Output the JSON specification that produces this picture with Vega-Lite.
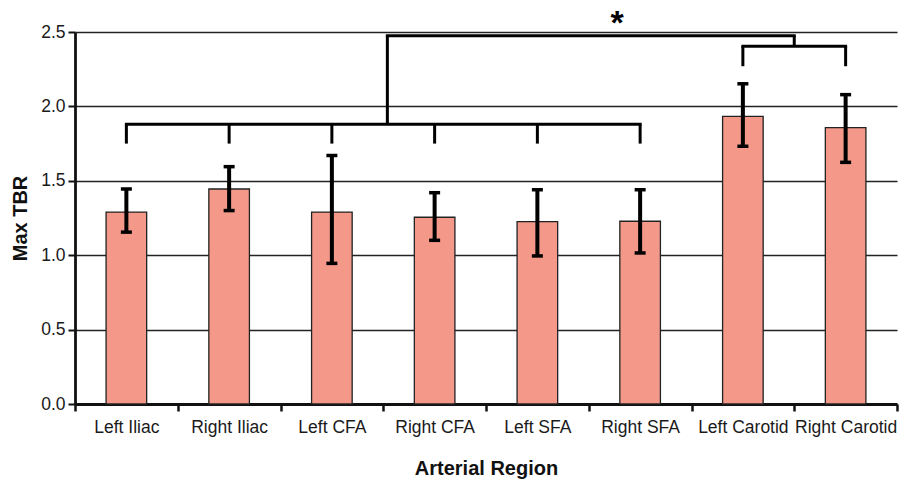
{
  "$schema": "https://vega.github.io/schema/vega-lite/v6.json",
  "width": 822,
  "height": 372,
  "autosize": {"type": "none"},
  "padding": {"left": 75, "top": 32, "right": 14, "bottom": 79},
  "background": "white",
  "config": {
    "view": {"stroke": null},
    "font": "Liberation Sans"
  },
  "datasets": {
    "bars": [
      {"region": "Left Iliac", "tbr": 1.29, "lo": 1.155, "hi": 1.445},
      {"region": "Right Iliac", "tbr": 1.445, "lo": 1.30, "hi": 1.595},
      {"region": "Left CFA", "tbr": 1.29, "lo": 0.945, "hi": 1.67},
      {"region": "Right CFA", "tbr": 1.255, "lo": 1.10, "hi": 1.42},
      {"region": "Left SFA", "tbr": 1.225, "lo": 0.995, "hi": 1.44},
      {"region": "Right SFA", "tbr": 1.228, "lo": 1.015, "hi": 1.44},
      {"region": "Left Carotid", "tbr": 1.933, "lo": 1.732, "hi": 2.152},
      {"region": "Right Carotid", "tbr": 1.857, "lo": 1.624, "hi": 2.079}
    ],
    "drops": [
      {"region": "Left Iliac", "y1": 1.75, "y2": 1.88},
      {"region": "Right Iliac", "y1": 1.75, "y2": 1.88},
      {"region": "Left CFA", "y1": 1.75, "y2": 1.88},
      {"region": "Right CFA", "y1": 1.75, "y2": 1.88},
      {"region": "Left SFA", "y1": 1.75, "y2": 1.88},
      {"region": "Right SFA", "y1": 1.75, "y2": 1.88},
      {"region": "Left Carotid", "y1": 2.27, "y2": 2.405},
      {"region": "Right Carotid", "y1": 2.27, "y2": 2.405}
    ],
    "spans": [
      {"from": "Left Iliac", "to": "Right SFA", "y": 1.88},
      {"from": "Left Carotid", "to": "Right Carotid", "y": 2.405}
    ]
  },
  "layer": [
    {
      "data": {"name": "bars"},
      "mark": {"type": "bar", "width": {"band": 0.395}, "fill": "#F4998A", "stroke": "#222", "strokeWidth": 1.3},
      "encoding": {
        "x": {
          "field": "region", "type": "nominal",
          "scale": {"domain": ["Left Iliac", "Right Iliac", "Left CFA", "Right CFA", "Left SFA", "Right SFA", "Left Carotid", "Right Carotid"], "paddingInner": 0, "paddingOuter": 0},
          "title": "Arterial Region",
          "axis": {
            "labelAngle": 0, "labelFontSize": 17.5, "labelColor": "#1a1a1a", "labelPadding": 7,
            "tickBand": "extent", "tickSize": 7, "tickWidth": 2.5, "tickColor": "#111",
            "domainColor": "#111", "domainWidth": 2.8,
            "titleFontSize": 20, "titleFontWeight": "bold", "titleColor": "#111", "titlePadding": 23
          }
        },
        "y": {
          "field": "tbr", "type": "quantitative",
          "scale": {"domain": [0, 2.5], "nice": false},
          "title": "Max TBR",
          "axis": {
            "values": [0, 0.5, 1, 1.5, 2, 2.5], "format": ".1f",
            "labelFontSize": 17.5, "labelColor": "#1a1a1a", "labelPadding": 3,
            "tickSize": 7, "tickWidth": 2, "tickColor": "#111",
            "domainColor": "#111", "domainWidth": 2.8,
            "grid": true, "gridColor": "#222", "gridWidth": 1.4,
            "titleFontSize": 20, "titleFontWeight": "bold", "titleColor": "#111", "titlePadding": 10
          }
        }
      }
    },
    {
      "data": {"name": "bars"},
      "mark": {"type": "rule", "color": "#000", "strokeWidth": 4},
      "encoding": {
        "x": {"field": "region", "type": "nominal", "title": "Arterial Region"},
        "y": {"field": "lo", "type": "quantitative", "title": "Max TBR"},
        "y2": {"field": "hi"}
      }
    },
    {
      "data": {"name": "bars"},
      "mark": {"type": "tick", "color": "#000", "size": 11, "thickness": 3.5, "opacity": 1},
      "encoding": {
        "x": {"field": "region", "type": "nominal", "title": "Arterial Region"},
        "y": {"field": "hi", "type": "quantitative", "title": "Max TBR"}
      }
    },
    {
      "data": {"name": "bars"},
      "mark": {"type": "tick", "color": "#000", "size": 11, "thickness": 3.5, "opacity": 1},
      "encoding": {
        "x": {"field": "region", "type": "nominal", "title": "Arterial Region"},
        "y": {"field": "lo", "type": "quantitative", "title": "Max TBR"}
      }
    },
    {
      "data": {"name": "drops"},
      "mark": {"type": "rule", "color": "#000", "strokeWidth": 3},
      "encoding": {
        "x": {"field": "region", "type": "nominal", "title": "Arterial Region"},
        "y": {"field": "y1", "type": "quantitative", "title": "Max TBR"},
        "y2": {"field": "y2"}
      }
    },
    {
      "data": {"name": "spans"},
      "mark": {"type": "rule", "color": "#000", "strokeWidth": 3, "strokeCap": "square"},
      "encoding": {
        "x": {"field": "from", "type": "nominal", "title": "Arterial Region"},
        "x2": {"field": "to"},
        "y": {"field": "y", "type": "quantitative", "title": "Max TBR"}
      }
    },
    {
      "data": {"values": [{"region": "Right CFA", "y1": 1.88, "y2": 2.475}]},
      "mark": {"type": "rule", "color": "#000", "strokeWidth": 3},
      "encoding": {
        "x": {"field": "region", "type": "nominal", "bandPosition": 0.04, "title": "Arterial Region"},
        "y": {"field": "y1", "type": "quantitative", "title": "Max TBR"},
        "y2": {"field": "y2"}
      }
    },
    {
      "data": {"values": [{"region": "Right Carotid", "y1": 2.405, "y2": 2.475}]},
      "mark": {"type": "rule", "color": "#000", "strokeWidth": 3},
      "encoding": {
        "x": {"field": "region", "type": "nominal", "bandPosition": 0, "title": "Arterial Region"},
        "y": {"field": "y1", "type": "quantitative", "title": "Max TBR"},
        "y2": {"field": "y2"}
      }
    },
    {
      "data": {"values": [{"from": "Right CFA", "to": "Right Carotid", "y": 2.475}]},
      "mark": {"type": "rule", "color": "#000", "strokeWidth": 3, "strokeCap": "square"},
      "encoding": {
        "x": {"field": "from", "type": "nominal", "bandPosition": 0.04, "title": "Arterial Region"},
        "x2": {"field": "to", "bandPosition": 0},
        "y": {"field": "y", "type": "quantitative", "title": "Max TBR"}
      }
    },
    {
      "data": {"values": [{"label": "*", "region": "Right SFA", "y": 2.59}]},
      "mark": {"type": "text", "fontSize": 34, "fontWeight": "bold", "color": "#000", "dx": -23, "dy": 5, "baseline": "middle", "align": "center"},
      "encoding": {
        "x": {"field": "region", "type": "nominal", "title": "Arterial Region"},
        "y": {"field": "y", "type": "quantitative", "title": "Max TBR"},
        "text": {"field": "label"}
      }
    }
  ]
}
